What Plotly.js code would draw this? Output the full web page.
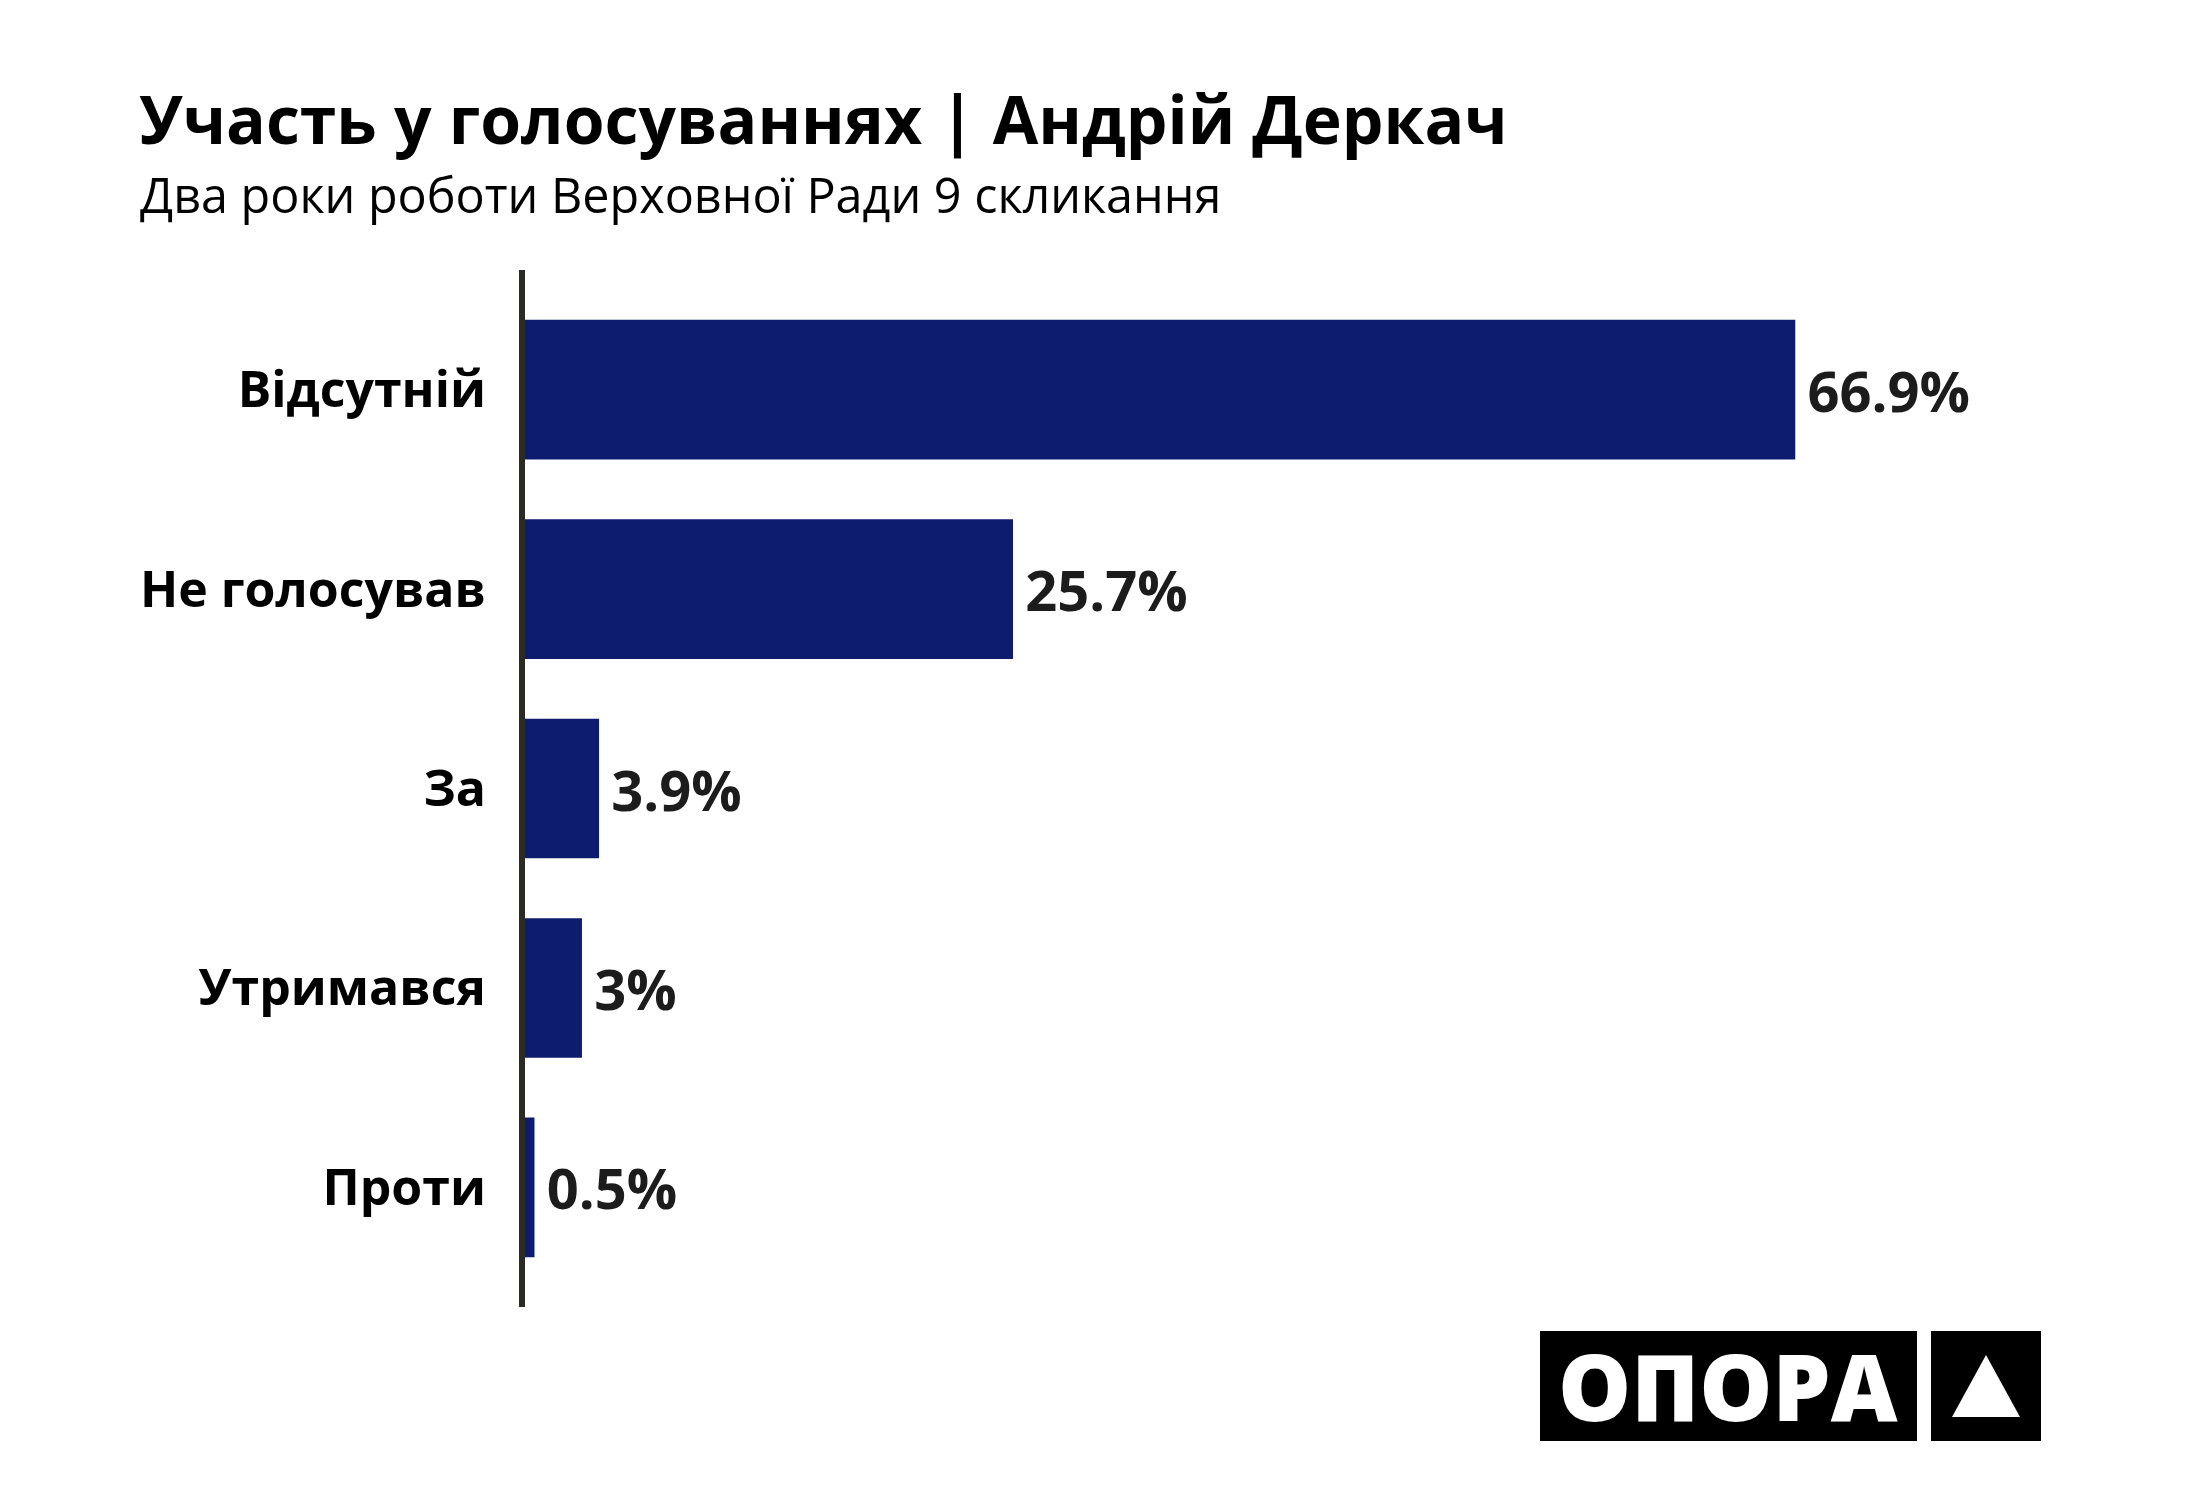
<!DOCTYPE html>
<html>
<head>
<meta charset="utf-8">
<script src="https://cdn.plot.ly/plotly-3.0.1.min.js"></script>
<style>
  body { margin: 0; background: #fff; }
  #plot { width: 2200px; height: 1500px; }
</style>
</head>
<body>
<div id="plot"></div>
<script>
var categories = ['Відсутній', 'Не голосував', 'За', 'Утримався', 'Проти'];
var shares = [66.9, 25.7, 3.9, 3, 0.5];

var titleText = 'Участь у голосуваннях | Андрій Деркач';
var subtitleText = 'Два роки роботи Верховної Ради 9 скликання';
var logoText = 'ОПОРА';

// page geometry (px)
var W = 2200, H = 1500;
var m = { l: 525, r: 156, t: 270, b: 193 };
var pw = W - m.l - m.r;
var ph = H - m.t - m.b;

// pixel -> paper coords, for things that sit outside the plot area
function px(x) { return (x - m.l) / pw; }
function py(y) { return (H - m.b - y) / ph; }

var bars = {
    type: 'bar',
    orientation: 'h',
    x: shares,
    y: categories,
    marker: { color: '#0d1c6f' },
    text: shares.map(function (v) { return '\u2009' + v + '%'; }),
    textposition: 'outside',
    cliponaxis: false,
    textfont: { family: 'Open Sans', size: 56, color: '#1c1c1c', weight: 700 },
    hoverinfo: 'none',
};

var layout = {
    width: W,
    height: H,
    margin: m,
    paper_bgcolor: '#fff',
    plot_bgcolor: '#fff',
    showlegend: false,
    bargap: 0.3,
    xaxis: {
        range: [0, 80],
        visible: false,
        fixedrange: true,
    },
    yaxis: {
        type: 'category',
        range: [4.6, -0.6],
        autorange: false,
        showline: true,
        linecolor: '#2b2b26',
        linewidth: 6,
        showgrid: false,
        zeroline: false,
        ticks: '',
        ticklabelstandoff: 23,
        tickfont: { family: 'Open Sans', size: 50, color: '#000', weight: 700 },
    },
    annotations: [
        {
            xref: 'paper', yref: 'paper',
            x: px(137), y: py(118),
            xanchor: 'left', yanchor: 'middle',
            text: titleText,
            showarrow: false,
            font: { family: 'Open Sans', size: 66, color: '#000', weight: 700 },
        },
        {
            xref: 'paper', yref: 'paper',
            x: px(138), y: py(194),
            xanchor: 'left', yanchor: 'middle',
            text: subtitleText,
            showarrow: false,
            font: { family: 'Open Sans', size: 48.5, color: '#000' },
        },
        {
            xref: 'paper', yref: 'paper',
            x: px(1728), y: py(1385),
            xanchor: 'center', yanchor: 'middle',
            text: logoText,
            showarrow: false,
            font: { family: 'Open Sans', size: 92, color: '#fff', weight: 800 },
        },
    ],
    shapes: [
        // logo boxes
        { type: 'rect', xref: 'paper', yref: 'paper', layer: 'below',
          x0: px(1540), x1: px(1917), y0: py(1441), y1: py(1331),
          fillcolor: '#000', line: { width: 0 } },
        { type: 'rect', xref: 'paper', yref: 'paper', layer: 'below',
          x0: px(1931), x1: px(2041), y0: py(1441), y1: py(1331),
          fillcolor: '#000', line: { width: 0 } },
        { type: 'path', xref: 'paper', yref: 'paper',
          path: 'M ' + px(1952) + ' ' + py(1417) + ' L ' + px(2020) + ' ' + py(1417) +
                ' L ' + px(1986) + ' ' + py(1355) + ' Z',
          fillcolor: '#fff', line: { width: 0 } },
    ],
};

var config = { displayModeBar: false, staticPlot: true };

Plotly.newPlot('plot', [bars], layout, config);
</script>
</body>
</html>
